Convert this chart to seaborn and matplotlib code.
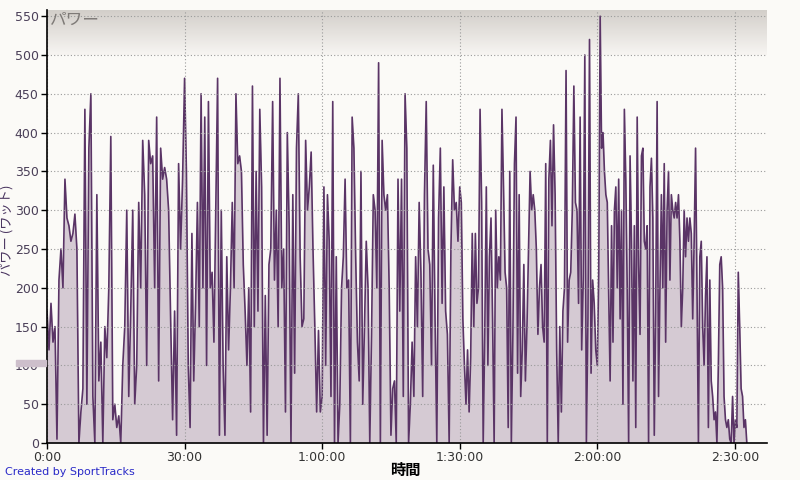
import matplotlib
matplotlib.use("Agg")
import matplotlib.pyplot as plt
from matplotlib.patches import Rectangle
from matplotlib.ticker import FuncFormatter, MultipleLocator
import numpy as np
import pandas as pd
import seaborn as sns

# power readings (watts), one list per half hour of the ride
power_0_30 = [170, 120, 180, 130, 150, 5, 210, 250, 200, 340,
              290, 280, 260, 270, 295, 250, 0, 40, 70, 430,
              50, 380, 450, 60, 0, 320, 80, 130, 0, 150,
              110, 200, 395, 30, 50, 20, 35, 0, 100, 150,
              300, 60, 170, 300, 50, 100, 310, 200, 390, 320,
              100, 390, 360, 370, 200, 420, 80, 380, 340, 355,
              340, 300, 160, 30, 170, 10, 360, 250, 340]
power_30_60 = [470, 350, 100, 20, 270, 80, 180, 310, 150, 450,
               200, 420, 100, 440, 200, 220, 130, 300, 470, 10,
               300, 100, 10, 240, 120, 200, 310, 200, 450, 360,
               370, 350, 230, 170, 100, 200, 40, 460, 150, 350,
               170, 430, 330, 0, 190, 10, 230, 250, 440, 210,
               300, 150, 470, 200, 250, 40, 400, 280, 0, 320,
               90, 380, 450, 240, 150, 160, 390, 300, 330, 375,
               250, 150, 40, 145, 40]
power_60_90 = [60, 330, 100, 320, 260, 60, 440, 0, 240, 0,
               50, 200, 240, 340, 200, 210, 0, 420, 380, 240,
               130, 80, 350, 50, 150, 260, 200, 0, 140, 320,
               300, 200, 490, 0, 390, 320, 300, 320, 200, 10,
               70, 80, 0, 340, 170, 340, 60, 450, 380, 0,
               50, 130, 60, 240, 150, 310, 220, 60, 320, 440,
               250, 230, 100, 358, 160, 0, 290, 380, 180, 330,
               170, 140, 0, 250, 365, 300, 310, 260]
power_90_120 = [330, 310, 160, 100, 50, 120, 40, 110, 270, 150,
                270, 180, 200, 430, 310, 0, 140, 330, 100, 240,
                290, 160, 0, 300, 200, 240, 210, 430, 330, 220,
                200, 20, 350, 0, 140, 360, 420, 90, 320, 60,
                120, 230, 80, 150, 250, 350, 300, 320, 300, 250,
                140, 200, 230, 150, 130, 360, 0, 340, 390, 280,
                410, 320, 120, 0, 150, 40, 170, 200, 480, 130,
                210, 220, 300, 460, 310, 300, 180, 420, 120, 210,
                500, 0, 160, 520, 90, 210, 180, 120]
power_120_end = [100, 220, 550, 380, 400, 350, 320, 310, 190, 80,
                 280, 130, 300, 330, 200, 340, 160, 300, 50, 430,
                 340, 200, 0, 370, 260, 80, 280, 20, 420, 230,
                 140, 370, 380, 260, 250, 280, 0, 330, 367, 290,
                 10, 170, 440, 60, 200, 320, 200, 360, 130, 300,
                 350, 210, 320, 300, 290, 310, 290, 320, 260, 150,
                 200, 300, 240, 290, 260, 290, 270, 160, 260, 380,
                 200, 0, 240, 260, 150, 100, 190, 240, 20, 210,
                 80, 60, 30, 40, 0, 100, 230, 240, 200, 60,
                 30, 20, 30, 5, 0, 60, 0, 30, 20, 220,
                 150, 70, 60, 20, 30, 0]
ride_end_min = 152.6

blocks = [(0, 30, power_0_30, False), (30, 60, power_30_60, False),
          (60, 90, power_60_90, False), (90, 120, power_90_120, False),
          (120, ride_end_min, power_120_end, True)]
frames = []
for start, stop, watts, closed in blocks:
    t = np.linspace(start, stop, len(watts), endpoint=closed)
    frames.append(pd.DataFrame({"minutes": t, "watts": watts}))
df = pd.concat(frames, ignore_index=True)

sns.set_style("white")
plt.rcParams["font.family"] = ["DejaVu Sans", "Noto Sans CJK JP"]
jp = ["Noto Sans CJK JP", "DejaVu Sans"]

bg = "#FBFAF7"
fig = plt.figure(figsize=(8, 4.8), dpi=100, facecolor=bg)
ax = fig.add_axes([0.05875, 0.0771, 0.9, 0.902])
ax.set_facecolor(bg)

# grey gradient band across the top of the plot, darker at the top
grad = np.linspace(0, 1, 100).reshape(-1, 1)
band = matplotlib.colors.LinearSegmentedColormap.from_list(
    "band", ["#D2CEC9", "#F7F5F2"])
ax.imshow(grad, cmap=band, aspect="auto", origin="upper",
          extent=[0, 1, 0.896, 1], transform=ax.transAxes, zorder=0)

ax.fill_between(df["minutes"], df["watts"], color="#D5CAD3", lw=0, zorder=1)
sns.lineplot(data=df, x="minutes", y="watts", color="#5A3466", lw=1.2,
             ax=ax, zorder=2)

ax.set_xlim(0, 157)
ax.set_ylim(0, 558)
ax.yaxis.set_major_locator(MultipleLocator(50))
ax.xaxis.set_major_locator(MultipleLocator(30))


def fmt_time(m, pos):
    h, mm = int(m // 60), int(round(m % 60))
    return f"{h}:{mm:02d}:00" if h else f"{mm}:00"


ax.xaxis.set_major_formatter(FuncFormatter(fmt_time))
ax.grid(True, color="#9A9A9A", lw=0.8, linestyle=(0, (1, 2)))
ax.set_axisbelow(False)
for s in ["top", "right"]:
    ax.spines[s].set_visible(False)
for s in ["left", "bottom"]:
    ax.spines[s].set_color("black")
    ax.spines[s].set_linewidth(1.2)
    ax.spines[s].set_zorder(5)
ax.tick_params(axis="y", length=4, width=1, colors="black", labelsize=9,
               labelcolor="#4A3F58", pad=2, left=True)
ax.tick_params(axis="x", length=4, width=1, colors="black", labelsize=9,
               labelcolor="#333333", pad=2, bottom=True)
ax.set_xlabel("")
ax.set_ylabel("")

ax.text(0.004, 0.995, "パワー", transform=ax.transAxes, ha="left", va="top",
        fontsize=12, color="#7E7A77", style="italic", family=jp, zorder=6)
fig.text(0.0, 0.52, "パワー (ワット)", rotation=90, ha="left", va="center",
         fontsize=9.5, color="#4A3560", family=jp)
fig.text(0.507, 0.02, "時間", ha="center", va="center", fontsize=11,
         fontweight="bold", color="black", family=jp)
fig.text(0.006, 0.017, "Created by SportTracks", ha="left", va="center",
         fontsize=8, color="#2A2AC8")

# slider marker of the original viewer
fig.patches.append(Rectangle((0.02, 0.237), 0.038, 0.012, transform=fig.transFigure,
                             color="#CDBFCB", zorder=0))

fig.savefig("out.png", dpi=100, facecolor=bg)
